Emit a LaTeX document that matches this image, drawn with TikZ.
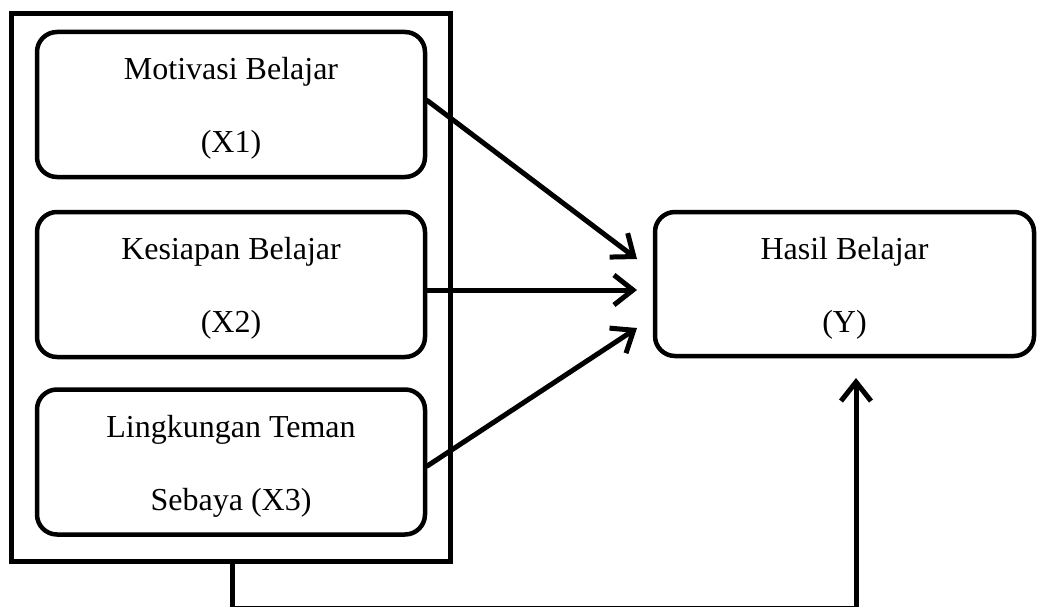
\documentclass[tikz,border=0pt]{standalone}
\usepackage{fontspec}
\setmainfont{Liberation Serif}
\usetikzlibrary{arrows.meta}

\begin{document}
\begin{tikzpicture}[
  x=1pt, y=-1pt,
  every node/.style={font=\fontsize{32}{38}\selectfont},
  varbox/.style={draw, line width=4.5pt, rounded corners=20pt,
    minimum width=388pt, minimum height=145pt, inner sep=0pt},
  grpbox/.style={draw, line width=5pt, minimum width=439pt,
    minimum height=547pt, inner sep=0pt},
  lbl/.style={anchor=base, inner sep=0pt},
  link/.style={line width=5pt, line cap=round, line join=round,
    -{Straight Barb[length=19pt,width=30pt,line width=5pt]}}
  ]
  \useasboundingbox (0,0) rectangle (1038,607);
  % the three variables X and their group
  \node[grpbox] (grp) at (231,287.5) {};
  \node[varbox] (x1) at (231,104.5) {};
  \node[varbox] (x2) at (231,284.5) {};
  \node[varbox] (x3) at (231,462) {};
  \node[varbox, minimum width=379pt, minimum height=144pt] (y) at (844.5,284) {};
  % labels
  \node[lbl] (x1a) at ([yshift=-50]x1.north) {Motivasi Belajar};
  \node[lbl] (x1b) at ([yshift=-123]x1.north) {(X1)};
  \node[lbl] (x2a) at ([yshift=-50]x2.north) {Kesiapan Belajar};
  \node[lbl] (x2b) at ([yshift=-123]x2.north) {(X2)};
  \node[lbl] (x3a) at ([yshift=-50]x3.north) {Lingkungan Teman};
  \node[lbl] (x3b) at ([yshift=-123]x3.north) {Sebaya (X3)};
  \node[lbl] (ya) at ([yshift=-50]y.north) {Hasil Belajar};
  \node[lbl] (yb) at ([yshift=-123]y.north) {(Y)};
  % arrows
  \coordinate (t1) at (637,259);
  \coordinate (t2) at (637,290);
  \coordinate (t3) at (637,328);
  \coordinate (c1) at (232,608);
  \coordinate (c2) at (856,608);
  \coordinate (t4) at (856,378);
  \draw[link] ([yshift=4]x1.east) -- (t1);
  \draw[link] ([yshift=-5.5]x2.east) -- (t2);
  \draw[link] ([yshift=-4]x3.east) -- (t3);
  \draw[link] (grp.south -| c1) -- (c1) -- (c2) -- (t4);
\end{tikzpicture}
\end{document}
